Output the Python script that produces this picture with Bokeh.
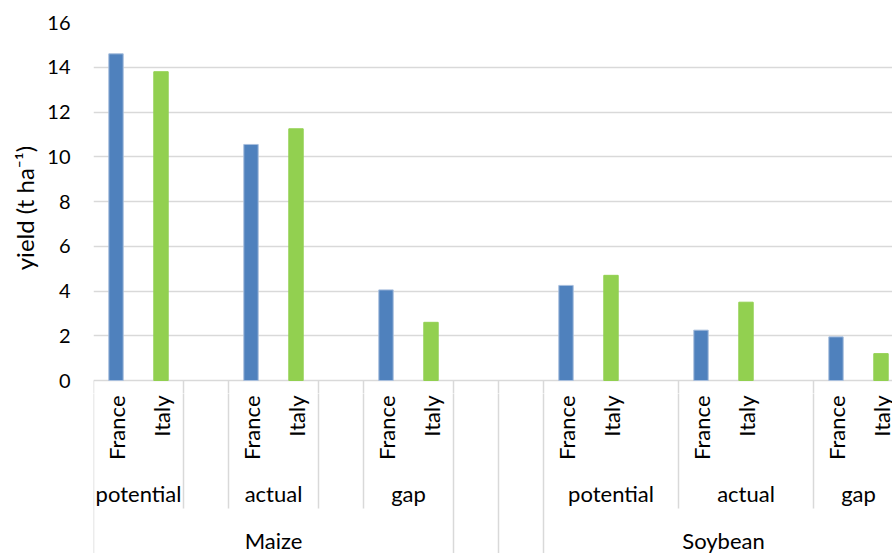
import math
from bokeh.plotting import figure
from bokeh.layouts import column
from bokeh.models import Range1d, FixedTicker, ColumnDataSource
from bokeh.core.properties import value
from bokeh.embed import file_html
from bokeh.resources import INLINE

# ---------------- data ----------------
crops = ["Maize", "Soybean"]
measures = ["potential", "actual", "gap"]
countries = ["France", "Italy"]
# order: Maize potential/actual/gap, Soybean potential/actual/gap
france = [14.6, 10.55, 4.05, 4.25, 2.25, 1.95]
italy = [13.8, 11.25, 2.6, 4.7, 3.5, 1.2]
y_ticks = [0, 2, 4, 6, 8, 10, 12, 14, 16]
y_title = "yield (t ha\u207b\u00b9)"

# ---------------- layout (category slots) ----------------
crop_start = [0, 10]
crop_span = [(0, 8), (10, 18)]
measure_offset = [0, 3, 6]
measure_span = [[(0, 2), (3, 5), (6, 8)], [(10, 13), (13, 16), (16, 18)]]
short_seps = [2, 3, 5, 6, 13, 16]
long_seps = [0, 8, 9, 10, 18]

FONT = "Lato"
FS_TICK = "20px"
FS_CAT = "22px"
FS_TITLE = "24px"
BLUE = "#4F81BD"
GREEN = "#92D050"
GRID = "#D9D9D9"

SLOT = 45.0           # px per category slot
PPU = 22.375          # px per yield unit
W, H = 892, 553
LEFT, TOP = 93, 22
FW = W - LEFT
FH1 = 371             # chart frame: page y 22 .. 393
FH2 = H - TOP - FH1   # category-label band below

ymax = y_ticks[-1]
ymin1 = ymax - FH1 / PPU
ymin2 = ymin1 - FH2 / PPU


def yy(page_y):
    return ymax - (page_y - TOP) / PPU


bx, btop, bcol, bline = [], [], [], []
lx, ltxt = [], []
for ci in range(len(crops)):
    for mi in range(len(measures)):
        k = ci * len(measures) + mi
        base = crop_start[ci] + measure_offset[mi]
        for si, (vals, col) in enumerate([(france, BLUE), (italy, GREEN)]):
            bx.append(base + si + 0.5)
            btop.append(vals[k])
            bcol.append(col)
            bline.append("#A7BEDD" if col == BLUE else col)
            lx.append(base + si + 0.5)
            ltxt.append(countries[si])

xr = Range1d(0, FW / SLOT)

# ---------------- main chart ----------------
p = figure(frame_width=FW, frame_height=FH1,
           min_border_left=LEFT, min_border_top=TOP,
           min_border_right=0, min_border_bottom=0,
           x_range=xr, y_range=Range1d(ymin1, ymax),
           x_axis_location=None, output_backend="svg", toolbar_location=None)
p.outline_line_color = None
p.background_fill_color = "white"
p.border_fill_color = "white"

ticker = FixedTicker(ticks=y_ticks)
p.yaxis.ticker = ticker
p.yaxis.axis_line_color = None
p.yaxis.major_tick_line_color = None
p.yaxis.minor_tick_line_color = None
p.yaxis.major_tick_out = 0
p.yaxis.major_tick_in = 0
p.yaxis.major_label_standoff = 23
p.yaxis.major_label_text_font = FONT
p.yaxis.major_label_text_font_size = FS_TICK
p.yaxis.major_label_text_color = "black"
p.yaxis.axis_label = y_title
p.yaxis.axis_label_text_font = FONT
p.yaxis.axis_label_text_font_size = FS_TITLE
p.yaxis.axis_label_text_font_style = "normal"
p.yaxis.axis_label_text_color = "black"
p.yaxis.axis_label_standoff = 5

p.xgrid.visible = False
p.ygrid.ticker = ticker
p.ygrid.grid_line_color = GRID
p.ygrid.grid_line_width = 1.5

src = ColumnDataSource(dict(x=bx, top=btop, color=bcol, line=bline))
p.vbar(x="x", top="top", bottom=0, width=0.32, fill_color="color",
       line_color="line", line_width=1, source=src)

# ---------------- category axis band ----------------
q = figure(frame_width=FW, frame_height=FH2,
           min_border_left=LEFT, min_border_top=0,
           min_border_right=0, min_border_bottom=0,
           x_range=xr, y_range=Range1d(ymin2, ymin1),
           x_axis_location=None, y_axis_location=None,
           output_backend="svg", toolbar_location=None)
q.outline_line_color = None
q.grid.visible = False
q.background_fill_color = "white"
q.border_fill_color = "white"

y_short = yy(508)
y_long = ymin2 - 1
all_seps = short_seps + long_seps
# upper part of the separators, inside the chart frame below the zero line
p.segment(x0=all_seps, x1=all_seps, y0=[0] * len(all_seps), y1=[ymin1 - 1] * len(all_seps),
          line_color=GRID, line_width=1.5)
q.segment(x0=short_seps, x1=short_seps, y0=[ymin1 + 1] * len(short_seps), y1=[y_short] * len(short_seps),
          line_color=GRID, line_width=1.5)
q.segment(x0=long_seps, x1=long_seps, y0=[ymin1 + 1] * len(long_seps), y1=[y_long] * len(long_seps),
          line_color=GRID, line_width=1.5)

# level 3: countries (rotated)
q.text(x=lx, y=[yy(395)] * len(lx), text=ltxt, angle=math.pi / 2,
       text_align="right", text_baseline="middle",
       text_font=value(FONT), text_font_size=FS_CAT, text_color="black")

# level 2: measures
mx, mt = [], []
for ci in range(len(crops)):
    for mi in range(len(measures)):
        a, b = measure_span[ci][mi]
        mx.append((a + b) / 2)
        mt.append(measures[mi])
q.text(x=mx, y=[yy(493)] * len(mx), text=mt, text_align="center", text_baseline="middle",
       text_font=value(FONT), text_font_size=FS_CAT, text_color="black")

# level 1: crops
cx = [(a + b) / 2 for a, b in crop_span]
q.text(x=cx, y=[yy(540)] * len(cx), text=crops, text_align="center", text_baseline="middle",
       text_font=value(FONT), text_font_size=FS_CAT, text_color="black")

layout = column(p, q, spacing=0)
open("out.html", "w").write(file_html(layout, INLINE))
